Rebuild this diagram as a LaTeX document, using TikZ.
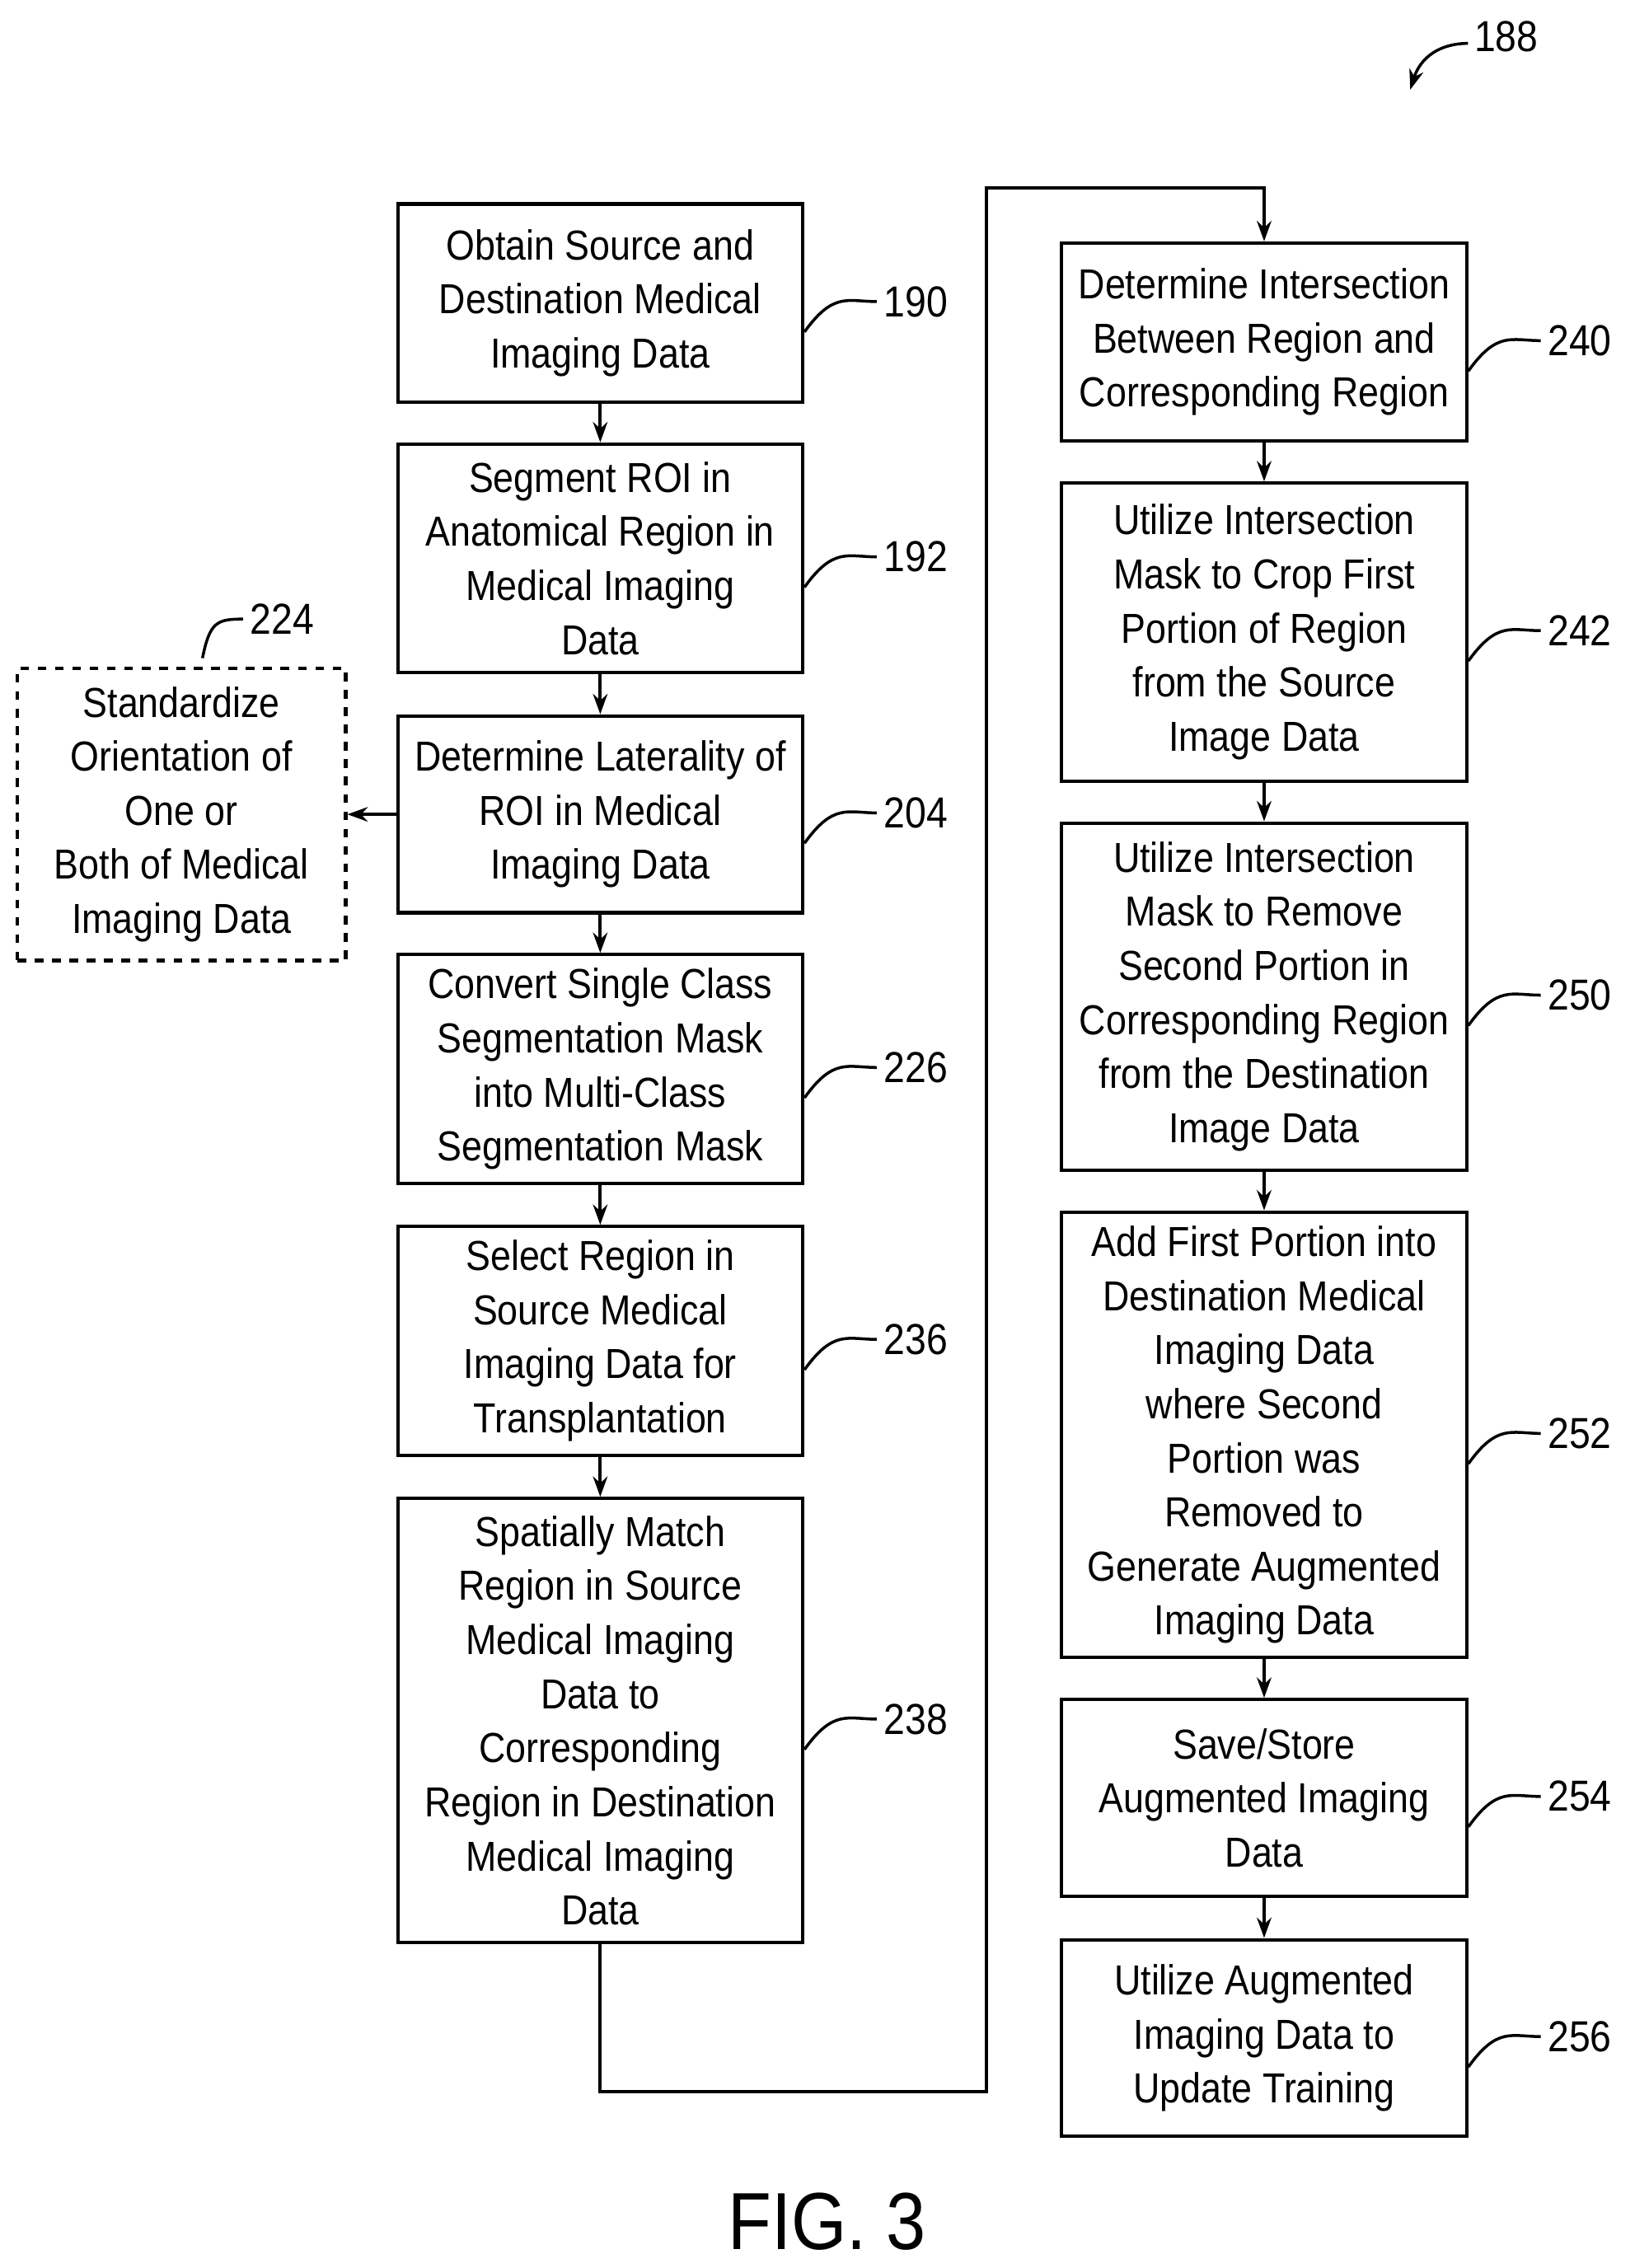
\documentclass[tikz,border=0pt]{standalone}
\usepackage{fontspec}
\setmainfont{Liberation Sans}[FakeStretch=0.88]
\usetikzlibrary{arrows.meta}
\begin{document}
\begin{tikzpicture}[x=0.5pt,y=-0.5pt,
  box/.style={draw,line width=1.2pt,minimum width=140pt,inner sep=1pt,align=center,font=\fontsize{14.5}{18.7}\selectfont},
  arr/.style={line width=1.2pt,-{Stealth[length=7pt,width=5pt]}},
  lead/.style={line width=1pt},
  lab/.style={anchor=west,font=\fontsize{15}{18}\selectfont,inner sep=2pt}]
\useasboundingbox (0,0) rectangle (1140,1568);
\node[box,minimum height=68.5pt] (b190) at (415,209.5) {Obtain Source and\\Destination Medical\\Imaging Data};
\node[box,minimum height=79pt] (b192) at (415,386) {Segment ROI in\\Anatomical Region in\\Medical Imaging\\Data};
\node[box,minimum height=68pt] (b204) at (415,563) {Determine Laterality of\\ROI in Medical\\Imaging Data};
\node[box,minimum height=79pt] (b226) at (415,739) {Convert Single Class\\Segmentation Mask\\into Multi-Class\\Segmentation Mask};
\node[box,minimum height=79pt] (b236) at (415,927) {Select Region in\\Source Medical\\Imaging Data for\\Transplantation};
\node[box,minimum height=153.5pt] (b238) at (415,1189.5) {Spatially Match\\Region in Source\\Medical Imaging\\Data to\\Corresponding\\Region in Destination\\Medical Imaging\\Data};
\node[box,minimum height=68.5pt] (b240) at (874,236.5) {Determine Intersection\\Between Region and\\Corresponding Region};
\node[box,minimum height=103pt] (b242) at (874,437) {Utilize Intersection\\Mask to Crop First\\Portion of Region\\from the Source\\Image Data};
\node[box,minimum height=120pt] (b250) at (874,689) {Utilize Intersection\\Mask to Remove\\Second Portion in\\Corresponding Region\\from the Destination\\Image Data};
\node[box,minimum height=154pt] (b252) at (874,992) {Add First Portion into\\Destination Medical\\Imaging Data\\where Second\\Portion was\\Removed to\\Generate Augmented\\Imaging Data};
\node[box,minimum height=68pt] (b254) at (874,1243) {Save/Store\\Augmented Imaging\\Data};
\node[box,minimum height=68pt] (b256) at (874,1409) {Utilize Augmented\\Imaging Data to\\Update Training};
\node[box,dashed,minimum width=113.5pt,minimum height=101pt] (b224) at (125.5,563) {Standardize\\Orientation of\\One or\\Both of Medical\\Imaging Data};
\draw[arr] (b190) -- (b192);
\draw[arr] (b192) -- (b204);
\draw[arr] (b204) -- (b226);
\draw[arr] (b226) -- (b236);
\draw[arr] (b236) -- (b238);
\draw[arr] (b204) -- (b224);
\draw[arr] (b240) -- (b242);
\draw[arr] (b242) -- (b250);
\draw[arr] (b250) -- (b252);
\draw[arr] (b252) -- (b254);
\draw[arr] (b254) -- (b256);
\draw[arr] (b238.south) -- (415,1446) -- (682,1446) -- (682,130) -- (874,130) -- (b240.north);
\foreach \n in {190,192,204,226,236,238,240,242,250,252,254,256}{
  \draw[lead] ([yshift=-10pt]b\n.east) .. controls +(20,-28) and +(-20,0) .. ++(50,-21) node[lab]{\n};
}
\draw[lead] (140,455) .. controls (145,430) and (150,428) .. (168,428) node[lab]{224};
\draw[lead,-{Stealth[length=7pt,width=5pt]}] (1015,30) .. controls (995,30) and (982,40) .. (975,62);
\node[lab] at (1015,25) {188};
\node[font=\fontsize{28}{30}\selectfont] at (572,1536) {FIG. 3};
\end{tikzpicture}
\end{document}
